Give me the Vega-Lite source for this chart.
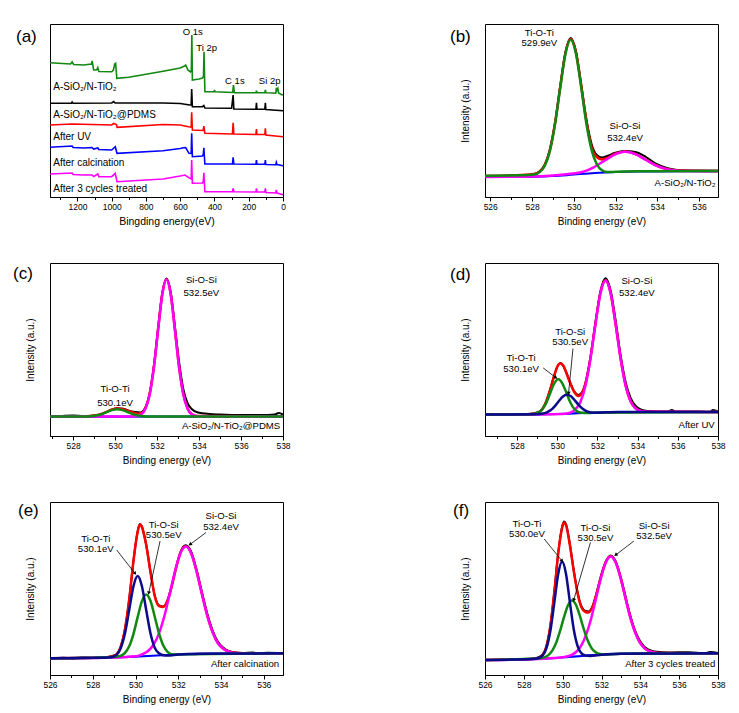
{
"$schema":"https://vega.github.io/schema/vega-lite/v6.json",
"background":"white",
"padding":{"left":12,"top":23,"right":5,"bottom":5},
"config":{
 "font":"Liberation Sans, Arial, DejaVu Sans, sans-serif",
 "view":{"stroke":"#000","strokeWidth":1},
 "axis":{"labelFont":"Liberation Sans, Arial, DejaVu Sans, sans-serif","titleFont":"Liberation Sans, Arial, DejaVu Sans, sans-serif","labelColor":"#000","titleColor":"#000","domainColor":"#000","tickColor":"#000","titleFontWeight":"normal","grid":false,"labelFontSize":8.5,"titleFontSize":10,"labelPadding":1,"titlePadding":6,"labelFlush":false,"labelOverlap":false,"domainWidth":1,"tickWidth":1},
 "text":{"font":"Liberation Sans, Arial, DejaVu Sans, sans-serif","fontSize":9.6,"color":"#000"},
 "title":{"font":"Liberation Sans, Arial, DejaVu Sans, sans-serif","fontWeight":"normal","fontSize":17,"color":"#000"}
},
"datasets":{
"a_g":[{"E":1360,"I":134.3},{"E":1240,"I":133},{"E":1231,"I":135},{"E":1222,"I":132.5},{"E":1163,"I":132},{"E":1118,"I":133},{"E":1114,"I":136},{"E":1105,"I":127},{"E":1088,"I":127},{"E":1081,"I":129.5},{"E":1075,"I":125.5},{"E":1000,"I":125.3},{"E":990,"I":127},{"E":982,"I":133},{"E":977,"I":133.7},{"E":970,"I":118.7},{"E":900,"I":119.7},{"E":800,"I":122.7},{"E":700,"I":125.7},{"E":600,"I":129},{"E":575,"I":131},{"E":568,"I":132},{"E":555,"I":127},{"E":540,"I":125},{"E":535,"I":127},{"E":532,"I":162},{"E":529,"I":117},{"E":490,"I":118},{"E":470,"I":119},{"E":464,"I":121},{"E":461,"I":145.3},{"E":456,"I":105.3},{"E":402,"I":105.3},{"E":400,"I":107},{"E":397,"I":105.3},{"E":294,"I":104.5},{"E":289,"I":112},{"E":284,"I":104.3},{"E":158,"I":104.3},{"E":155,"I":106.3},{"E":152,"I":104.3},{"E":106,"I":104.3},{"E":103,"I":107},{"E":100,"I":104.3},{"E":60,"I":104},{"E":42,"I":103.8},{"E":39,"I":109.3},{"E":35,"I":107},{"E":30,"I":108.5},{"E":26,"I":104},{"E":10,"I":102.5},{"E":0,"I":102}],
"a_k":[{"E":1360,"I":93.7},{"E":1235,"I":93.7},{"E":1231,"I":95},{"E":1226,"I":93.7},{"E":1000,"I":94},{"E":988,"I":95.5},{"E":980,"I":94},{"E":700,"I":94},{"E":600,"I":93.5},{"E":545,"I":92},{"E":536,"I":92},{"E":533,"I":108},{"E":529,"I":90.3},{"E":470,"I":90.3},{"E":462,"I":91.5},{"E":456,"I":89},{"E":300,"I":88.7},{"E":291,"I":102},{"E":287,"I":88},{"E":158,"I":87.7},{"E":155,"I":94.3},{"E":152,"I":87.7},{"E":106,"I":87.7},{"E":103,"I":94.3},{"E":100,"I":87.5},{"E":0,"I":86.3}],
"a_r":[{"E":1360,"I":72},{"E":1231,"I":73},{"E":1000,"I":72},{"E":988,"I":73.5},{"E":972,"I":72.5},{"E":968,"I":69.7},{"E":700,"I":72.5},{"E":600,"I":72},{"E":552,"I":70.3},{"E":536,"I":70},{"E":533,"I":84.7},{"E":529,"I":67},{"E":466,"I":66.5},{"E":462,"I":71},{"E":456,"I":63.7},{"E":295,"I":63},{"E":291,"I":74.3},{"E":287,"I":63},{"E":158,"I":62.5},{"E":155,"I":68},{"E":152,"I":62.5},{"E":106,"I":62.5},{"E":103,"I":68.7},{"E":100,"I":62},{"E":0,"I":60.3}],
"a_b":[{"E":1360,"I":49.7},{"E":1231,"I":51},{"E":1225,"I":49.5},{"E":1163,"I":49},{"E":1115,"I":49.5},{"E":1105,"I":48},{"E":1081,"I":49},{"E":1075,"I":47.5},{"E":1000,"I":47},{"E":979,"I":50.3},{"E":969,"I":43.7},{"E":700,"I":46.3},{"E":600,"I":48.5},{"E":581,"I":49.3},{"E":568,"I":49.5},{"E":549,"I":43.7},{"E":536,"I":43.5},{"E":533,"I":63.7},{"E":529,"I":40.3},{"E":470,"I":41},{"E":465,"I":43},{"E":462,"I":49.3},{"E":456,"I":33},{"E":295,"I":33},{"E":291,"I":39.7},{"E":287,"I":33},{"E":158,"I":32.7},{"E":155,"I":37},{"E":152,"I":32.7},{"E":106,"I":32.7},{"E":103,"I":37},{"E":100,"I":32.5},{"E":42,"I":32.3},{"E":39,"I":34.7},{"E":35,"I":32.5},{"E":0,"I":31.3}],
"a_m":[{"E":1360,"I":23},{"E":1231,"I":24},{"E":1225,"I":22.5},{"E":1163,"I":22},{"E":1115,"I":22},{"E":1105,"I":20.5},{"E":1081,"I":23},{"E":1075,"I":20.3},{"E":1000,"I":20.3},{"E":979,"I":23.7},{"E":969,"I":15.3},{"E":700,"I":18},{"E":600,"I":21},{"E":572,"I":22},{"E":543,"I":18.7},{"E":536,"I":18},{"E":533,"I":37},{"E":529,"I":13.7},{"E":470,"I":14},{"E":465,"I":16},{"E":462,"I":24.3},{"E":456,"I":5.3},{"E":295,"I":5.3},{"E":291,"I":8.7},{"E":287,"I":5.3},{"E":158,"I":5},{"E":155,"I":8.7},{"E":152,"I":5},{"E":106,"I":5},{"E":103,"I":8.7},{"E":100,"I":4.5},{"E":42,"I":4},{"E":39,"I":7},{"E":35,"I":4},{"E":0,"I":2.3}],
"a_tl":[{"E":1341,"I":109.7,"t":"A-SiO₂/N-TiO₂"},{"E":1341,"I":82,"t":"A-SiO₂/N-TiO₂@PDMS"},{"E":1341,"I":60.3,"t":"After UV"},{"E":1341,"I":33.7,"t":"After calcination"},{"E":1341,"I":8,"t":"After 3 cycles treated"}],
"a_tc":[{"E":527,"I":165.3,"t":"O 1s"},{"E":446,"I":149.3,"t":"Ti 2p"},{"E":281,"I":116,"t":"C 1s"},{"E":78,"I":116,"t":"Si 2p"}],

"b_k":[{"E":525.75,"I":20.5},{"E":526.5,"I":21},{"E":527.5,"I":21.5},{"E":528.1,"I":22.8},{"E":528.35,"I":25.5},{"E":528.6,"I":32},{"E":528.85,"I":47},{"E":529.1,"I":74},{"E":529.35,"I":111},{"E":529.6,"I":145},{"E":529.85,"I":159},{"E":530.1,"I":146},{"E":530.35,"I":113},{"E":530.6,"I":78},{"E":530.85,"I":53},{"E":531.1,"I":42},{"E":531.35,"I":39.5},{"E":531.6,"I":41},{"E":531.95,"I":44},{"E":532.45,"I":46},{"E":532.95,"I":45},{"E":533.45,"I":40},{"E":533.95,"I":33},{"E":534.45,"I":29},{"E":534.95,"I":27},{"E":535.5,"I":26.5},{"E":536.9,"I":26.3}],
"b_r":[{"E":525.75,"I":21},{"E":527.5,"I":21.9},{"E":528.1,"I":23},{"E":528.35,"I":25.2},{"E":528.6,"I":31.5},{"E":528.85,"I":46.5},{"E":529.1,"I":73.5},{"E":529.35,"I":110},{"E":529.6,"I":144},{"E":529.85,"I":158},{"E":530.1,"I":145},{"E":530.35,"I":112},{"E":530.6,"I":76},{"E":530.85,"I":50},{"E":531.1,"I":40},{"E":531.35,"I":37.5},{"E":531.6,"I":39},{"E":531.95,"I":43},{"E":532.45,"I":45.5},{"E":532.95,"I":43},{"E":533.45,"I":37.3},{"E":533.95,"I":31.5},{"E":534.45,"I":28},{"E":534.95,"I":26.5},{"E":536.9,"I":26}],
"b_bg":[{"E":525.75,"I":20},{"E":527,"I":20.1},{"E":528,"I":20.3},{"E":529,"I":21},{"E":530,"I":22.5},{"E":531,"I":24},{"E":532,"I":25},{"E":533,"I":25.5},{"E":534,"I":25.7},{"E":536.9,"I":25.8}],
"b_m":[{"E":525.75,"I":20},{"E":528,"I":20.5},{"E":529,"I":21.5},{"E":529.95,"I":23.5},{"E":530.45,"I":25.2},{"E":530.95,"I":29.7},{"E":531.45,"I":36},{"E":531.95,"I":42.4},{"E":532.45,"I":45.2},{"E":532.95,"I":42.8},{"E":533.45,"I":37},{"E":533.95,"I":31.3},{"E":534.45,"I":27.9},{"E":534.95,"I":26.3},{"E":535.5,"I":25.9},{"E":536.9,"I":25.8}],
"b_g":[{"E":525.75,"I":21.3},{"E":527.5,"I":21.7},{"E":528.1,"I":22.5},{"E":528.35,"I":24.7},{"E":528.6,"I":30.8},{"E":528.85,"I":45.6},{"E":529.1,"I":72.6},{"E":529.35,"I":109.2},{"E":529.6,"I":143.1},{"E":529.85,"I":157.3},{"E":530.1,"I":143.6},{"E":530.35,"I":110.2},{"E":530.6,"I":73.6},{"E":530.85,"I":47.1},{"E":531.1,"I":32.8},{"E":531.35,"I":26.7},{"E":531.6,"I":25},{"E":532,"I":25.2},{"E":533,"I":25.8},{"E":536.9,"I":26}],
"b_tc":[{"E":528.35,"I":164,"t":"Ti-O-Ti"},{"E":528.35,"I":154,"t":"529.9eV"},{"E":532.45,"I":70.7,"t":"Si-O-Si"},{"E":532.45,"I":59,"t":"532.4eV"}],
"b_tr":[{"E":536.78,"I":14,"t":"A-SiO₂/N-TiO₂"}],

"c_k":[{"E":526.9,"I":19},{"E":527.5,"I":20},{"E":528,"I":20.5},{"E":528.5,"I":19.8},{"E":529,"I":20.5},{"E":529.3,"I":21.5},{"E":529.6,"I":24},{"E":529.85,"I":26.5},{"E":530.1,"I":27.8},{"E":530.4,"I":27.3},{"E":530.7,"I":25},{"E":530.95,"I":24},{"E":531.2,"I":23.5},{"E":531.45,"I":28.8},{"E":531.65,"I":43},{"E":531.85,"I":70},{"E":532.05,"I":108},{"E":532.25,"I":143},{"E":532.45,"I":157.5},{"E":532.65,"I":144},{"E":532.85,"I":110},{"E":533.05,"I":74},{"E":533.25,"I":47},{"E":533.45,"I":33},{"E":533.65,"I":27},{"E":533.95,"I":23.5},{"E":534.5,"I":22},{"E":535,"I":21.5},{"E":536,"I":21},{"E":537,"I":21},{"E":537.6,"I":21.5},{"E":537.8,"I":23},{"E":538,"I":21.5}],
"c_r":[{"E":526.9,"I":19.7},{"E":528.6,"I":19.8},{"E":529.1,"I":20.7},{"E":529.35,"I":22},{"E":529.6,"I":24.2},{"E":529.85,"I":26.4},{"E":530.1,"I":27.6},{"E":530.35,"I":27},{"E":530.6,"I":25.2},{"E":530.85,"I":23.5},{"E":531.1,"I":22.3},{"E":531.25,"I":22.8},{"E":531.45,"I":28},{"E":531.65,"I":42},{"E":531.85,"I":69},{"E":532.05,"I":106.7},{"E":532.25,"I":142},{"E":532.45,"I":156.7},{"E":532.65,"I":142},{"E":532.85,"I":106.7},{"E":533.05,"I":69},{"E":533.25,"I":42},{"E":533.45,"I":27.8},{"E":533.65,"I":22},{"E":533.95,"I":19.9},{"E":538,"I":19.7}],
"c_bg":[{"E":526.9,"I":19.3},{"E":538,"I":19.5}],
"c_m":[{"E":526.9,"I":19.5},{"E":530.5,"I":19.5},{"E":530.95,"I":19.7},{"E":531.25,"I":21.8},{"E":531.45,"I":27.6},{"E":531.65,"I":41.8},{"E":531.85,"I":68.8},{"E":532.05,"I":106.5},{"E":532.25,"I":141.8},{"E":532.45,"I":156.5},{"E":532.65,"I":141.8},{"E":532.85,"I":106.5},{"E":533.05,"I":68.8},{"E":533.25,"I":41.8},{"E":533.45,"I":27.6},{"E":533.65,"I":21.8},{"E":533.95,"I":19.7},{"E":538,"I":19.5}],
"c_g":[{"E":526.9,"I":19.5},{"E":528.6,"I":19.6},{"E":528.85,"I":19.8},{"E":529.1,"I":20.5},{"E":529.35,"I":21.8},{"E":529.6,"I":23.9},{"E":529.85,"I":25.9},{"E":530.1,"I":26.7},{"E":530.35,"I":25.9},{"E":530.6,"I":23.9},{"E":530.85,"I":21.8},{"E":531.1,"I":20.5},{"E":531.35,"I":19.8},{"E":531.6,"I":19.6},{"E":538,"I":19.5}],
"c_tc":[{"E":534.11,"I":155.7,"t":"Si-O-Si"},{"E":534.11,"I":143.4,"t":"532.5eV"},{"E":530.0,"I":46.7,"t":"Ti-O-Ti"},{"E":530.0,"I":33.4,"t":"530.1eV"}],
"c_tr":[{"E":537.87,"I":10,"t":"A-SiO₂/N-TiO₂@PDMS"}],

"d_k":[{"E":526.4,"I":21.8},{"E":527.5,"I":21.6},{"E":528.5,"I":22},{"E":529.05,"I":23.8},{"E":529.25,"I":27},{"E":529.45,"I":35},{"E":529.65,"I":47},{"E":529.85,"I":61},{"E":530.15,"I":73},{"E":530.45,"I":63.5},{"E":530.65,"I":53},{"E":530.85,"I":44.5},{"E":531.05,"I":41},{"E":531.25,"I":44.5},{"E":531.4,"I":53},{"E":531.65,"I":79},{"E":531.9,"I":114},{"E":532.15,"I":145},{"E":532.4,"I":157.7},{"E":532.65,"I":146},{"E":532.9,"I":116},{"E":533.15,"I":81},{"E":533.4,"I":54},{"E":533.65,"I":38},{"E":533.9,"I":30},{"E":534.15,"I":26.5},{"E":534.5,"I":25},{"E":535.5,"I":24.5},{"E":535.7,"I":26},{"E":535.9,"I":24.5},{"E":537,"I":24.5},{"E":537.6,"I":24},{"E":537.75,"I":26},{"E":538,"I":24.5}],
"d_r":[{"E":526.4,"I":21.6},{"E":528.6,"I":21.8},{"E":528.85,"I":22.2},{"E":529.05,"I":23.5},{"E":529.25,"I":26.8},{"E":529.45,"I":34.4},{"E":529.65,"I":46.6},{"E":529.85,"I":60.5},{"E":530.0,"I":69.5},{"E":530.15,"I":72.5},{"E":530.3,"I":70.5},{"E":530.45,"I":63},{"E":530.65,"I":52.4},{"E":530.85,"I":43.7},{"E":531.05,"I":40},{"E":531.25,"I":43.7},{"E":531.4,"I":52.4},{"E":531.65,"I":77.9},{"E":531.9,"I":112.3},{"E":532.15,"I":143.2},{"E":532.4,"I":155.7},{"E":532.65,"I":143.2},{"E":532.9,"I":112.3},{"E":533.15,"I":77.7},{"E":533.4,"I":50.6},{"E":533.65,"I":34.7},{"E":533.9,"I":27.6},{"E":534.15,"I":25.1},{"E":534.5,"I":24.3},{"E":538,"I":24.1}],
"d_bg":[{"E":526.4,"I":21.5},{"E":529,"I":21.7},{"E":530,"I":22},{"E":531,"I":22.8},{"E":532,"I":23.5},{"E":533,"I":24},{"E":538,"I":24}],
"d_m":[{"E":526.4,"I":21.5},{"E":529.5,"I":21.8},{"E":530.4,"I":22.3},{"E":530.65,"I":23.3},{"E":530.9,"I":26.7},{"E":531.15,"I":34},{"E":531.4,"I":50},{"E":531.65,"I":77.2},{"E":531.9,"I":112},{"E":532.15,"I":143},{"E":532.4,"I":155.5},{"E":532.65,"I":143},{"E":532.9,"I":112.2},{"E":533.15,"I":77.6},{"E":533.4,"I":50.5},{"E":533.65,"I":34.6},{"E":533.9,"I":27.5},{"E":534.15,"I":25},{"E":534.5,"I":24.2},{"E":538,"I":24}],
"d_g":[{"E":526.4,"I":21.5},{"E":528.6,"I":21.7},{"E":528.85,"I":22.1},{"E":529.05,"I":23.3},{"E":529.25,"I":26.5},{"E":529.45,"I":33.1},{"E":529.65,"I":43.1},{"E":529.85,"I":52.6},{"E":530.05,"I":56.7},{"E":530.25,"I":52.7},{"E":530.45,"I":43.3},{"E":530.65,"I":33.5},{"E":530.85,"I":27},{"E":531.05,"I":24},{"E":531.25,"I":23.2},{"E":531.45,"I":23},{"E":531.8,"I":23.2},{"E":538,"I":24}],
"d_n":[{"E":526.4,"I":21.5},{"E":528.9,"I":21.8},{"E":529.28,"I":22.4},{"E":529.48,"I":23.6},{"E":529.68,"I":25.9},{"E":529.88,"I":29.9},{"E":530.08,"I":35},{"E":530.28,"I":39.6},{"E":530.48,"I":41.3},{"E":530.68,"I":39.8},{"E":530.88,"I":35.4},{"E":531.08,"I":30.6},{"E":531.28,"I":26.9},{"E":531.48,"I":24.5},{"E":531.68,"I":23.5},{"E":531.9,"I":23.3},{"E":533,"I":24},{"E":538,"I":24}],
"d_tc":[{"E":533.96,"I":155,"t":"Si-O-Si"},{"E":533.96,"I":143.3,"t":"532.4eV"},{"E":530.64,"I":103.6,"t":"Ti-O-Si"},{"E":530.64,"I":94,"t":"530.5eV"},{"E":528.2,"I":78,"t":"Ti-O-Ti"},{"E":528.2,"I":67.5,"t":"530.1eV"}],
"d_tr":[{"E":537.84,"I":10.7,"t":"After UV"}],
"d_ar":[{"k":1,"E":529.3,"I":68,"E2":529.93,"I2":58.3},{"k":2,"E":530.78,"I":87.5,"E2":530.56,"I2":42.7}],

"e_k":[{"E":526,"I":16.5},{"E":526.6,"I":17.3},{"E":527,"I":16.5},{"E":527.5,"I":17.5},{"E":528,"I":17},{"E":528.5,"I":17.5},{"E":528.9,"I":18.9},{"E":529.1,"I":20.5},{"E":529.3,"I":27.8},{"E":529.5,"I":45},{"E":529.7,"I":75},{"E":529.9,"I":113.5},{"E":530.1,"I":143.5},{"E":530.2,"I":151},{"E":530.3,"I":148.5},{"E":530.5,"I":130.5},{"E":530.7,"I":103.5},{"E":530.9,"I":79.5},{"E":531.1,"I":69.5},{"E":531.3,"I":68.5},{"E":531.5,"I":75},{"E":531.7,"I":90},{"E":531.9,"I":108},{"E":532.1,"I":123},{"E":532.35,"I":129.8},{"E":532.6,"I":123.5},{"E":532.85,"I":106},{"E":533.1,"I":83.5},{"E":533.35,"I":62},{"E":533.6,"I":45},{"E":533.85,"I":33.5},{"E":534.1,"I":27.5},{"E":534.35,"I":24},{"E":534.6,"I":22.8},{"E":535,"I":22},{"E":535.5,"I":22.5},{"E":535.7,"I":21.5},{"E":536.2,"I":22.3},{"E":536.9,"I":22}],
"e_r":[{"E":526,"I":16.8},{"E":528.5,"I":17.3},{"E":528.9,"I":18.7},{"E":529.1,"I":20.3},{"E":529.3,"I":27.5},{"E":529.5,"I":44.7},{"E":529.7,"I":74.5},{"E":529.9,"I":113},{"E":530.0,"I":130},{"E":530.1,"I":143},{"E":530.2,"I":150.5},{"E":530.3,"I":148},{"E":530.4,"I":140},{"E":530.5,"I":130},{"E":530.7,"I":103},{"E":530.9,"I":79},{"E":531.1,"I":69},{"E":531.3,"I":68},{"E":531.5,"I":74.5},{"E":531.7,"I":89},{"E":531.9,"I":107},{"E":532.1,"I":122},{"E":532.35,"I":128.7},{"E":532.6,"I":122},{"E":532.85,"I":104.4},{"E":533.1,"I":81.7},{"E":533.35,"I":60.1},{"E":533.6,"I":43.3},{"E":533.85,"I":32.1},{"E":534.1,"I":26.5},{"E":534.35,"I":23.5},{"E":534.6,"I":22.2},{"E":535,"I":21.7},{"E":536.9,"I":21.8}],
"e_bg":[{"E":526,"I":16.7},{"E":528,"I":17},{"E":529,"I":17.5},{"E":530,"I":18.3},{"E":531,"I":19.5},{"E":532,"I":20.5},{"E":533,"I":21.2},{"E":534,"I":21.5},{"E":536.9,"I":21.7}],
"e_m":[{"E":526,"I":16.7},{"E":529,"I":17.5},{"E":529.85,"I":18.5},{"E":530.1,"I":18.9},{"E":530.35,"I":21},{"E":530.6,"I":24.2},{"E":530.85,"I":30.5},{"E":531.1,"I":41.6},{"E":531.35,"I":58.8},{"E":531.6,"I":80.9},{"E":531.85,"I":104},{"E":532.1,"I":121.7},{"E":532.35,"I":128.5},{"E":532.6,"I":121.9},{"E":532.85,"I":104.3},{"E":533.1,"I":81.6},{"E":533.35,"I":60},{"E":533.6,"I":43.2},{"E":533.85,"I":32},{"E":534.1,"I":26.4},{"E":534.35,"I":23.4},{"E":534.6,"I":22.1},{"E":535,"I":21.6},{"E":536.9,"I":21.7}],
"e_g":[{"E":526,"I":16.7},{"E":528.9,"I":18.1},{"E":529.1,"I":18.4},{"E":529.3,"I":19.2},{"E":529.5,"I":21.9},{"E":529.7,"I":28.4},{"E":529.9,"I":40.7},{"E":530.1,"I":57.9},{"E":530.3,"I":73.9},{"E":530.5,"I":80.6},{"E":530.7,"I":74.2},{"E":530.9,"I":58.3},{"E":531.1,"I":41.6},{"E":531.3,"I":29.5},{"E":531.5,"I":23.2},{"E":531.7,"I":20.8},{"E":531.9,"I":20.5},{"E":532.5,"I":20.8},{"E":536.9,"I":21.7}],
"e_n":[{"E":526,"I":16.7},{"E":528.5,"I":17.2},{"E":528.7,"I":17.4},{"E":528.9,"I":18},{"E":529.1,"I":20},{"E":529.3,"I":26.4},{"E":529.5,"I":41},{"E":529.7,"I":64.4},{"E":529.9,"I":88.4},{"E":530.1,"I":99},{"E":530.3,"I":88.8},{"E":530.5,"I":65},{"E":530.7,"I":41.8},{"E":530.9,"I":27.3},{"E":531.1,"I":21.7},{"E":531.3,"I":19.8},{"E":531.5,"I":19.5},{"E":532,"I":20.5},{"E":533,"I":21.2},{"E":536.9,"I":21.7}],
"e_tc":[{"E":528.14,"I":136,"t":"Ti-O-Ti"},{"E":528.14,"I":126.3,"t":"530.1eV"},{"E":531.32,"I":150.2,"t":"Ti-O-Si"},{"E":531.32,"I":139.8,"t":"530.5eV"},{"E":534.0,"I":159,"t":"Si-O-Si"},{"E":534.0,"I":148.3,"t":"532.4eV"}],
"e_tr":[{"E":536.72,"I":10.6,"t":"After calcination"}],
"e_ar":[{"k":1,"E":529.12,"I":125,"E2":529.98,"I2":101.5},{"k":2,"E":531.15,"I":134,"E2":530.62,"I2":82},{"k":3,"E":533.3,"I":142.5,"E2":532.55,"I2":130.5}],

"f_k":[{"E":526,"I":14.8},{"E":527,"I":15.5},{"E":528,"I":15.8},{"E":528.57,"I":16.5},{"E":528.97,"I":20.5},{"E":529.17,"I":29.5},{"E":529.37,"I":50},{"E":529.57,"I":83.5},{"E":529.77,"I":122},{"E":529.97,"I":148},{"E":530.07,"I":153.5},{"E":530.17,"I":151},{"E":530.37,"I":131},{"E":530.57,"I":105},{"E":530.77,"I":82.5},{"E":530.97,"I":68.5},{"E":531.17,"I":64},{"E":531.32,"I":63.5},{"E":531.57,"I":70.5},{"E":531.77,"I":84},{"E":531.97,"I":99},{"E":532.22,"I":113.5},{"E":532.47,"I":119.5},{"E":532.72,"I":114},{"E":532.97,"I":99.5},{"E":533.22,"I":80},{"E":533.47,"I":60.5},{"E":533.72,"I":45},{"E":533.97,"I":34.5},{"E":534.22,"I":28},{"E":534.47,"I":25},{"E":534.72,"I":23.5},{"E":535.5,"I":22.5},{"E":536.5,"I":22.8},{"E":537.3,"I":21.5},{"E":537.6,"I":23},{"E":538,"I":22}],
"f_r":[{"E":526,"I":15.1},{"E":528.57,"I":16.3},{"E":528.77,"I":17.1},{"E":528.97,"I":20.1},{"E":529.17,"I":29},{"E":529.37,"I":49.3},{"E":529.57,"I":83},{"E":529.77,"I":121.3},{"E":529.97,"I":147},{"E":530.07,"I":152.5},{"E":530.17,"I":150},{"E":530.37,"I":130},{"E":530.57,"I":104},{"E":530.77,"I":81.5},{"E":530.97,"I":67.4},{"E":531.17,"I":63},{"E":531.32,"I":62.5},{"E":531.57,"I":69.6},{"E":531.77,"I":83},{"E":531.97,"I":97.8},{"E":532.22,"I":112.7},{"E":532.47,"I":118.8},{"E":532.72,"I":113.2},{"E":532.97,"I":98.2},{"E":533.22,"I":78.3},{"E":533.47,"I":58.8},{"E":533.72,"I":43.4},{"E":533.97,"I":32.9},{"E":534.22,"I":26.9},{"E":534.47,"I":23.9},{"E":534.72,"I":22.6},{"E":535,"I":21.9},{"E":538,"I":21.8}],
"f_bg":[{"E":526,"I":15},{"E":528,"I":15.5},{"E":529,"I":16.3},{"E":530,"I":17.5},{"E":531,"I":19},{"E":532,"I":20.3},{"E":533,"I":21.2},{"E":534,"I":21.6},{"E":538,"I":21.7}],
"f_m":[{"E":526,"I":15},{"E":529,"I":16.3},{"E":529.97,"I":17.7},{"E":530.22,"I":18.5},{"E":530.47,"I":20.2},{"E":530.72,"I":23.5},{"E":530.97,"I":29.9},{"E":531.22,"I":40.9},{"E":531.47,"I":56.7},{"E":531.72,"I":76.6},{"E":531.97,"I":97},{"E":532.22,"I":112.5},{"E":532.47,"I":118.6},{"E":532.72,"I":113},{"E":532.97,"I":98},{"E":533.22,"I":78.1},{"E":533.47,"I":58.6},{"E":533.72,"I":43.2},{"E":533.97,"I":32.7},{"E":534.22,"I":26.7},{"E":534.47,"I":23.7},{"E":534.72,"I":22.4},{"E":535,"I":21.7},{"E":538,"I":21.7}],
"f_g":[{"E":526,"I":15},{"E":528.68,"I":16.4},{"E":528.88,"I":16.9},{"E":529.08,"I":17.9},{"E":529.28,"I":20.1},{"E":529.48,"I":24.8},{"E":529.68,"I":33},{"E":529.88,"I":45},{"E":530.08,"I":58.6},{"E":530.28,"I":69.9},{"E":530.48,"I":74.4},{"E":530.68,"I":70.4},{"E":530.88,"I":59.6},{"E":531.08,"I":46.4},{"E":531.28,"I":35},{"E":531.48,"I":27.2},{"E":531.68,"I":22.9},{"E":531.88,"I":21.2},{"E":532.1,"I":20.4},{"E":533,"I":21.2},{"E":538,"I":21.7}],
"f_n":[{"E":526,"I":15},{"E":528.4,"I":16},{"E":528.57,"I":16.2},{"E":528.77,"I":17},{"E":528.97,"I":19.5},{"E":529.17,"I":27.2},{"E":529.37,"I":44.5},{"E":529.57,"I":72.3},{"E":529.77,"I":100.9},{"E":529.97,"I":113.5},{"E":530.17,"I":101.3},{"E":530.37,"I":73.1},{"E":530.57,"I":45.7},{"E":530.77,"I":28.8},{"E":530.97,"I":21.6},{"E":531.17,"I":19.5},{"E":531.4,"I":19.1},{"E":532,"I":20.3},{"E":533,"I":21.2},{"E":538,"I":21.7}],
"f_tc":[{"E":528.16,"I":150.7,"t":"Ti-O-Ti"},{"E":528.16,"I":140.7,"t":"530.0eV"},{"E":531.69,"I":147.3,"t":"Ti-O-Si"},{"E":531.69,"I":137.3,"t":"530.5eV"},{"E":534.71,"I":149,"t":"Si-O-Si"},{"E":534.71,"I":139.3,"t":"532.5eV"}],
"f_tr":[{"E":537.86,"I":10.6,"t":"After 3 cycles treated"}],
"f_ar":[{"k":1,"E":529.05,"I":136,"E2":529.97,"I2":114},{"k":2,"E":531.43,"I":132.5,"E2":530.57,"I2":75},{"k":3,"E":533.67,"I":134,"E2":532.73,"I2":120}]
},
"columns":2,
"spacing":{"row":66,"column":202},
"bounds":"flush",
"concat":[
{
 "width":233,"height":173,
 "title":{"text":"(a)","anchor":"start","frame":"group","orient":"top","offset":0,"dx":-34,"dy":30,"baseline":"middle"},
 "encoding":{
  "x":{"field":"E","type":"quantitative","scale":{"domain":[0,1360],"reverse":true,"nice":false,"zero":false},
   "axis":{"title":"Bingding energy(eV)","titleFontSize":10.5,"values":[0,100,200,300,400,500,600,700,800,900,1000,1100,1200,1300],"format":"d","labelExpr":"datum.value % 200 === 0 ? datum.label : ''","tickSize":{"condition":{"test":"datum.value % 200 !== 0","value":2.5},"value":4}}},
  "y":{"field":"I","type":"quantitative","scale":{"domain":[0,173],"nice":false,"zero":false},"axis":null}
 },
 "layer":[
  {"data":{"name":"a_g"},"mark":{"type":"line","color":"#118811","strokeWidth":1.6}},
  {"data":{"name":"a_k"},"mark":{"type":"line","color":"#000000","strokeWidth":1.6}},
  {"data":{"name":"a_r"},"mark":{"type":"line","color":"#FF0000","strokeWidth":1.6}},
  {"data":{"name":"a_b"},"mark":{"type":"line","color":"#0000FF","strokeWidth":1.6}},
  {"data":{"name":"a_m"},"mark":{"type":"line","color":"#FF00FF","strokeWidth":1.6}},
  {"data":{"name":"a_tl"},"mark":{"type":"text","align":"left","baseline":"middle","fontSize":10},"encoding":{"text":{"field":"t"}}},
  {"data":{"name":"a_tc"},"mark":{"type":"text","align":"center","baseline":"middle","fontSize":9.5},"encoding":{"text":{"field":"t"}}}
 ]
},
{
 "width":233,"height":173,
 "title":{"text":"(b)","anchor":"start","frame":"group","orient":"top","offset":0,"dx":-35,"dy":30,"baseline":"middle"},
 "encoding":{
  "x":{"field":"E","type":"quantitative","scale":{"domain":[525.75,536.9],"nice":false,"zero":false},
   "axis":{"title":"Binding energy (eV)","values":[526,527,528,529,530,531,532,533,534,535,536],"format":"d","labelExpr":"datum.value % 2 === 0 ? datum.label : ''","tickSize":{"condition":{"test":"datum.value % 2 !== 0","value":2.5},"value":4}}},
  "y":{"field":"I","type":"quantitative","scale":{"domain":[0,173],"nice":false,"zero":false},"axis":{"title":"Intensity (a.u.)","labels":false,"ticks":false,"domain":false,"titlePadding":15}}
 },
 "layer":[
  {"data":{"name":"b_k"},"mark":{"type":"line","color":"#000000","strokeWidth":2,"interpolate":"monotone"}},
  {"data":{"name":"b_r"},"mark":{"type":"line","color":"#FF0000","strokeWidth":2.5,"interpolate":"monotone"}},
  {"data":{"name":"b_bg"},"mark":{"type":"line","color":"#0000FF","strokeWidth":2.2,"interpolate":"monotone"}},
  {"data":{"name":"b_m"},"mark":{"type":"line","color":"#FF00FF","strokeWidth":2.5,"interpolate":"monotone"}},
  {"data":{"name":"b_g"},"mark":{"type":"line","color":"#118811","strokeWidth":2.5,"interpolate":"monotone"}},
  {"data":{"name":"b_tc"},"mark":{"type":"text","align":"center","baseline":"middle"},"encoding":{"text":{"field":"t"}}},
  {"data":{"name":"b_tr"},"mark":{"type":"text","align":"right","baseline":"middle"},"encoding":{"text":{"field":"t"}}}
 ]
},
{
 "width":233,"height":173,
 "title":{"text":"(c)","anchor":"start","frame":"group","orient":"top","offset":0,"dx":-37,"dy":28,"baseline":"middle"},
 "encoding":{
  "x":{"field":"E","type":"quantitative","scale":{"domain":[526.9,538],"nice":false,"zero":false},
   "axis":{"title":"Binding energy (eV)","values":[527,528,529,530,531,532,533,534,535,536,537,538],"format":"d","labelExpr":"datum.value % 2 === 0 ? datum.label : ''","tickSize":{"condition":{"test":"datum.value % 2 !== 0","value":2.5},"value":4}}},
  "y":{"field":"I","type":"quantitative","scale":{"domain":[0,173],"nice":false,"zero":false},"axis":{"title":"Intensity (a.u.)","labels":false,"ticks":false,"domain":false,"titlePadding":15}}
 },
 "layer":[
  {"data":{"name":"c_k"},"mark":{"type":"line","color":"#000000","strokeWidth":2,"interpolate":"monotone"}},
  {"data":{"name":"c_r"},"mark":{"type":"line","color":"#FF0000","strokeWidth":2.5,"interpolate":"monotone"}},
  {"data":{"name":"c_bg"},"mark":{"type":"line","color":"#0000FF","strokeWidth":2.2,"interpolate":"monotone"}},
  {"data":{"name":"c_m"},"mark":{"type":"line","color":"#FF00FF","strokeWidth":2.5,"interpolate":"monotone"}},
  {"data":{"name":"c_g"},"mark":{"type":"line","color":"#118811","strokeWidth":2.5,"interpolate":"monotone"}},
  {"data":{"name":"c_tc"},"mark":{"type":"text","align":"center","baseline":"middle"},"encoding":{"text":{"field":"t"}}},
  {"data":{"name":"c_tr"},"mark":{"type":"text","align":"right","baseline":"middle"},"encoding":{"text":{"field":"t"}}}
 ]
},
{
 "width":233,"height":173,
 "title":{"text":"(d)","anchor":"start","frame":"group","orient":"top","offset":0,"dx":-35,"dy":29,"baseline":"middle"},
 "encoding":{
  "x":{"field":"E","type":"quantitative","scale":{"domain":[526.4,538],"nice":false,"zero":false},
   "axis":{"title":"Binding energy (eV)","values":[527,528,529,530,531,532,533,534,535,536,537,538],"format":"d","labelExpr":"datum.value % 2 === 0 ? datum.label : ''","tickSize":{"condition":{"test":"datum.value % 2 !== 0","value":2.5},"value":4}}},
  "y":{"field":"I","type":"quantitative","scale":{"domain":[0,173],"nice":false,"zero":false},"axis":{"title":"Intensity (a.u.)","labels":false,"ticks":false,"domain":false,"titlePadding":15}}
 },
 "layer":[
  {"data":{"name":"d_k"},"mark":{"type":"line","color":"#000000","strokeWidth":2,"interpolate":"monotone"}},
  {"data":{"name":"d_r"},"mark":{"type":"line","color":"#FF0000","strokeWidth":2.5,"interpolate":"monotone"}},
  {"data":{"name":"d_bg"},"mark":{"type":"line","color":"#0000FF","strokeWidth":2.2,"interpolate":"monotone"}},
  {"data":{"name":"d_m"},"mark":{"type":"line","color":"#FF00FF","strokeWidth":2.5,"interpolate":"monotone"}},
  {"data":{"name":"d_g"},"mark":{"type":"line","color":"#118811","strokeWidth":2.5,"interpolate":"monotone"}},
  {"data":{"name":"d_n"},"mark":{"type":"line","color":"#0A0A8A","strokeWidth":2.5,"interpolate":"monotone"}},
  {"data":{"name":"d_ar"},"mark":{"type":"rule","color":"#000","strokeWidth":0.8},"encoding":{"x2":{"field":"E2"},"y2":{"field":"I2"}}},
  {"data":{"name":"d_ar"},"transform":[{"filter":"datum.k === 1"}],"mark":{"type":"point","shape":"triangle-up","filled":true,"size":16,"angle":127,"color":"#000","opacity":1},"encoding":{"x":{"field":"E2","type":"quantitative"},"y":{"field":"I2","type":"quantitative"}}},
  {"data":{"name":"d_ar"},"transform":[{"filter":"datum.k === 2"}],"mark":{"type":"point","shape":"triangle-up","filled":true,"size":16,"angle":185,"color":"#000","opacity":1},"encoding":{"x":{"field":"E2","type":"quantitative"},"y":{"field":"I2","type":"quantitative"}}},
  {"data":{"name":"d_tc"},"mark":{"type":"text","align":"center","baseline":"middle"},"encoding":{"text":{"field":"t"}}},
  {"data":{"name":"d_tr"},"mark":{"type":"text","align":"right","baseline":"middle"},"encoding":{"text":{"field":"t"}}}
 ]
},
{
 "width":233,"height":173,
 "title":{"text":"(e)","anchor":"start","frame":"group","orient":"top","offset":0,"dx":-32,"dy":26,"baseline":"middle"},
 "encoding":{
  "x":{"field":"E","type":"quantitative","scale":{"domain":[526,536.9],"nice":false,"zero":false},
   "axis":{"title":"Binding energy (eV)","values":[526,527,528,529,530,531,532,533,534,535,536],"format":"d","labelExpr":"datum.value % 2 === 0 ? datum.label : ''","tickSize":{"condition":{"test":"datum.value % 2 !== 0","value":2.5},"value":4}}},
  "y":{"field":"I","type":"quantitative","scale":{"domain":[0,173],"nice":false,"zero":false},"axis":{"title":"Intensity (a.u.)","labels":false,"ticks":false,"domain":false,"titlePadding":15}}
 },
 "layer":[
  {"data":{"name":"e_k"},"mark":{"type":"line","color":"#000000","strokeWidth":2,"interpolate":"monotone"}},
  {"data":{"name":"e_r"},"mark":{"type":"line","color":"#FF0000","strokeWidth":2.5,"interpolate":"monotone"}},
  {"data":{"name":"e_bg"},"mark":{"type":"line","color":"#0000FF","strokeWidth":2.2,"interpolate":"monotone"}},
  {"data":{"name":"e_m"},"mark":{"type":"line","color":"#FF00FF","strokeWidth":2.5,"interpolate":"monotone"}},
  {"data":{"name":"e_g"},"mark":{"type":"line","color":"#118811","strokeWidth":2.5,"interpolate":"monotone"}},
  {"data":{"name":"e_n"},"mark":{"type":"line","color":"#0A0A8A","strokeWidth":2.5,"interpolate":"monotone"}},
  {"data":{"name":"e_ar"},"mark":{"type":"rule","color":"#000","strokeWidth":0.8},"encoding":{"x2":{"field":"E2"},"y2":{"field":"I2"}}},
  {"data":{"name":"e_ar"},"transform":[{"filter":"datum.k === 1"}],"mark":{"type":"point","shape":"triangle-up","filled":true,"size":16,"angle":142,"color":"#000","opacity":1},"encoding":{"x":{"field":"E2","type":"quantitative"},"y":{"field":"I2","type":"quantitative"}}},
  {"data":{"name":"e_ar"},"transform":[{"filter":"datum.k === 2"}],"mark":{"type":"point","shape":"triangle-up","filled":true,"size":16,"angle":192,"color":"#000","opacity":1},"encoding":{"x":{"field":"E2","type":"quantitative"},"y":{"field":"I2","type":"quantitative"}}},
  {"data":{"name":"e_ar"},"transform":[{"filter":"datum.k === 3"}],"mark":{"type":"point","shape":"triangle-up","filled":true,"size":16,"angle":233,"color":"#000","opacity":1},"encoding":{"x":{"field":"E2","type":"quantitative"},"y":{"field":"I2","type":"quantitative"}}},
  {"data":{"name":"e_tc"},"mark":{"type":"text","align":"center","baseline":"middle"},"encoding":{"text":{"field":"t"}}},
  {"data":{"name":"e_tr"},"mark":{"type":"text","align":"right","baseline":"middle"},"encoding":{"text":{"field":"t"}}}
 ]
},
{
 "width":233,"height":173,
 "title":{"text":"(f)","anchor":"start","frame":"group","orient":"top","offset":0,"dx":-32,"dy":26,"baseline":"middle"},
 "encoding":{
  "x":{"field":"E","type":"quantitative","scale":{"domain":[526,538],"nice":false,"zero":false},
   "axis":{"title":"Binding energy (eV)","values":[526,527,528,529,530,531,532,533,534,535,536,537,538],"format":"d","labelExpr":"datum.value % 2 === 0 ? datum.label : ''","tickSize":{"condition":{"test":"datum.value % 2 !== 0","value":2.5},"value":4}}},
  "y":{"field":"I","type":"quantitative","scale":{"domain":[0,173],"nice":false,"zero":false},"axis":{"title":"Intensity (a.u.)","labels":false,"ticks":false,"domain":false,"titlePadding":15}}
 },
 "layer":[
  {"data":{"name":"f_k"},"mark":{"type":"line","color":"#000000","strokeWidth":2,"interpolate":"monotone"}},
  {"data":{"name":"f_r"},"mark":{"type":"line","color":"#FF0000","strokeWidth":2.5,"interpolate":"monotone"}},
  {"data":{"name":"f_bg"},"mark":{"type":"line","color":"#0000FF","strokeWidth":2.2,"interpolate":"monotone"}},
  {"data":{"name":"f_m"},"mark":{"type":"line","color":"#FF00FF","strokeWidth":2.5,"interpolate":"monotone"}},
  {"data":{"name":"f_g"},"mark":{"type":"line","color":"#118811","strokeWidth":2.5,"interpolate":"monotone"}},
  {"data":{"name":"f_n"},"mark":{"type":"line","color":"#0A0A8A","strokeWidth":2.5,"interpolate":"monotone"}},
  {"data":{"name":"f_ar"},"mark":{"type":"rule","color":"#000","strokeWidth":0.8},"encoding":{"x2":{"field":"E2"},"y2":{"field":"I2"}}},
  {"data":{"name":"f_ar"},"transform":[{"filter":"datum.k === 1"}],"mark":{"type":"point","shape":"triangle-up","filled":true,"size":16,"angle":142,"color":"#000","opacity":1},"encoding":{"x":{"field":"E2","type":"quantitative"},"y":{"field":"I2","type":"quantitative"}}},
  {"data":{"name":"f_ar"},"transform":[{"filter":"datum.k === 2"}],"mark":{"type":"point","shape":"triangle-up","filled":true,"size":16,"angle":196,"color":"#000","opacity":1},"encoding":{"x":{"field":"E2","type":"quantitative"},"y":{"field":"I2","type":"quantitative"}}},
  {"data":{"name":"f_ar"},"transform":[{"filter":"datum.k === 3"}],"mark":{"type":"point","shape":"triangle-up","filled":true,"size":16,"angle":233,"color":"#000","opacity":1},"encoding":{"x":{"field":"E2","type":"quantitative"},"y":{"field":"I2","type":"quantitative"}}},
  {"data":{"name":"f_tc"},"mark":{"type":"text","align":"center","baseline":"middle"},"encoding":{"text":{"field":"t"}}},
  {"data":{"name":"f_tr"},"mark":{"type":"text","align":"right","baseline":"middle"},"encoding":{"text":{"field":"t"}}}
 ]
}
]
}
